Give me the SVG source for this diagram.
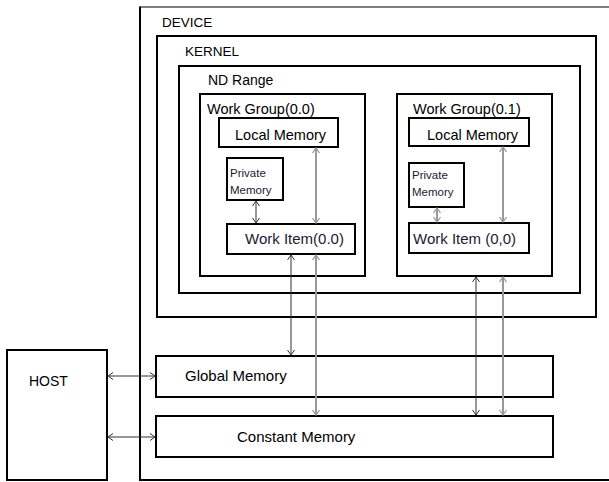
<svg xmlns="http://www.w3.org/2000/svg" width="609" height="482" viewBox="0 0 609 482">
<style>
.box{fill:#fff;stroke:#000;stroke-width:2}
.t{font-family:"Liberation Sans",Arial,sans-serif;fill:#000}
.h{font-size:13.5px}
.m{font-size:15px}
.s{font-size:11.5px;fill:#1a1a33}
.blk{stroke:#333;stroke-width:1;fill:none}
.gry{stroke:#999;stroke-width:2;fill:none}
</style>
<defs>
<marker id="ab" viewBox="-7 -5 8 10" refX="0" refY="0" markerWidth="8" markerHeight="10" markerUnits="userSpaceOnUse" orient="auto-start-reverse">
<path d="M-5,-3.5 L0,0 L-5,3.5" fill="none" stroke="#333" stroke-width="1"/>
</marker>
<marker id="ag" viewBox="-7 -5 8 10" refX="0" refY="0" markerWidth="8" markerHeight="10" markerUnits="userSpaceOnUse" orient="auto-start-reverse">
<path d="M-5,-3.5 L0,0 L-5,3.5" fill="none" stroke="#999" stroke-width="1.3"/>
</marker>
</defs>
<rect width="609" height="482" fill="#fff"/>
<g id="device">
<rect x="140" y="7" width="480" height="473" fill="#fff" stroke="none"/>
<path d="M140,7 H609" stroke="#000" stroke-width="1.2" fill="none"/>
<path d="M140,6.5 V480 H609" stroke="#000" stroke-width="2" fill="none"/>
<text class="t h" x="162" y="27">DEVICE</text>
</g>
<g id="kernel">
<rect class="box" x="157" y="36" width="439" height="281"/>
<text class="t h" x="185" y="56">KERNEL</text>
</g>
<g id="ndrange">
<rect class="box" x="179" y="66" width="401" height="227"/>
<text class="t h" x="208" y="85" style="font-size:14px">ND Range</text>
</g>
<g id="wg0">
<rect class="box" x="200" y="94" width="165" height="182"/>
<text class="t m" x="207" y="114" style="font-size:14.5px">Work Group(0.0)</text>
</g>
<g id="local0">
<rect class="box" x="219" y="118" width="119" height="29"/>
<text class="t m" x="235" y="140" style="font-size:14.5px">Local Memory</text>
</g>
<g id="private0">
<rect class="box" x="227" y="158" width="56" height="42"/>
<text class="t s" x="230" y="177">Private</text>
<text class="t s" x="230" y="194">Memory</text>
</g>
<g id="item0">
<rect class="box" x="227" y="224" width="128" height="30"/>
<text class="t m" x="245" y="244" style="fill:#1a1a33">Work Item(0.0)</text>
</g>
<g id="wg1">
<rect class="box" x="397" y="94" width="155" height="182"/>
<text class="t m" x="413" y="114" style="font-size:14.5px">Work Group(0.1)</text>
</g>
<g id="local1">
<rect class="box" x="409" y="118" width="120" height="28"/>
<text class="t m" x="427" y="140" style="font-size:14.5px">Local Memory</text>
</g>
<g id="private1">
<rect class="box" x="409" y="163" width="55" height="44"/>
<text class="t s" x="412" y="179">Private</text>
<text class="t s" x="412" y="196">Memory</text>
</g>
<g id="item1">
<rect class="box" x="409" y="223" width="120" height="30"/>
<text class="t m" x="413" y="244" style="fill:#1a1a33">Work Item (0,0)</text>
</g>
<g id="global">
<rect class="box" x="156" y="356" width="397" height="41"/>
<text class="t m" x="185" y="381">Global Memory</text>
</g>
<g id="constant">
<rect class="box" x="156" y="416" width="397" height="41"/>
<text class="t m" x="237" y="442">Constant Memory</text>
</g>
<g id="host">
<rect class="box" x="7" y="350" width="100" height="130"/>
<text class="t h" x="29" y="386" style="font-size:14px">HOST</text>
</g>
<g id="connectors">
<line class="blk" x1="256" y1="201" x2="256" y2="223" marker-start="url(#ab)" marker-end="url(#ab)"/>
<line class="gry" x1="316" y1="148" x2="316" y2="223" marker-start="url(#ag)" marker-end="url(#ag)"/>
<line class="gry" x1="437" y1="208" x2="437" y2="222" marker-start="url(#ag)" marker-end="url(#ag)"/>
<line class="gry" x1="503" y1="147" x2="503" y2="222" marker-start="url(#ag)" marker-end="url(#ag)"/>
<line class="blk" x1="291" y1="255" x2="291" y2="355" marker-start="url(#ab)" marker-end="url(#ab)"/>
<line class="gry" x1="316" y1="255" x2="316" y2="415" marker-start="url(#ag)" marker-end="url(#ag)"/>
<line class="blk" x1="476" y1="277" x2="476" y2="415" marker-start="url(#ab)" marker-end="url(#ab)"/>
<line class="gry" x1="503" y1="277" x2="503" y2="415" marker-start="url(#ag)" marker-end="url(#ag)"/>
<line class="blk" x1="108" y1="376" x2="155" y2="376" marker-start="url(#ab)" marker-end="url(#ab)"/>
<line class="blk" x1="108" y1="437" x2="155" y2="437" marker-start="url(#ab)" marker-end="url(#ab)"/>
</g>
</svg>
